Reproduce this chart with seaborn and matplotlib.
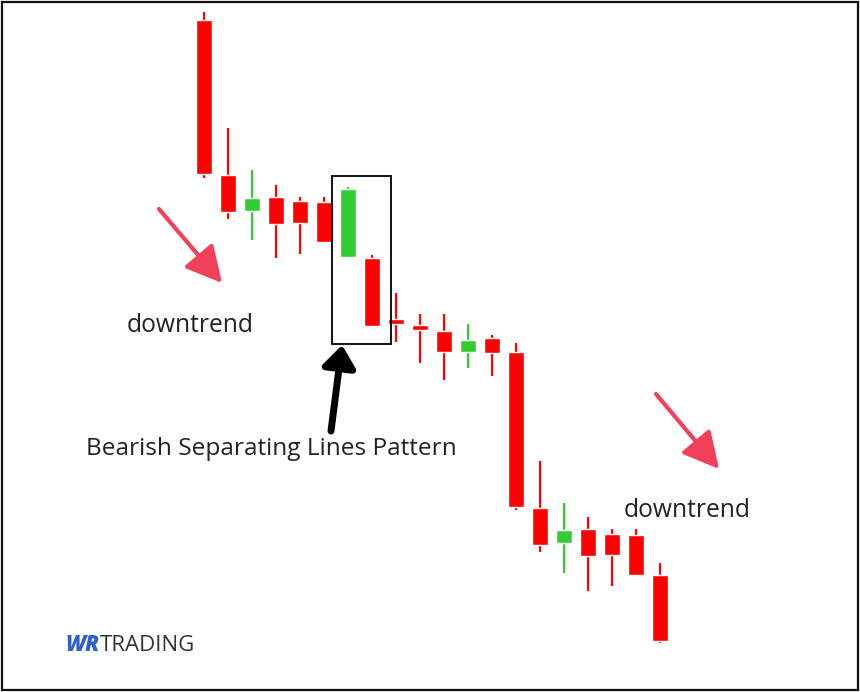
import matplotlib
matplotlib.use("Agg")
import matplotlib.pyplot as plt
import seaborn as sns
from matplotlib.patches import Rectangle

# candle data (price units, one candle per session)
opens  = [672, 517, 481, 495, 491, 490, 435, 434, 373, 367, 361, 340, 354, 340, 184, 149, 163, 158, 157, 117]
highs  = [680, 564, 522, 507, 495, 495, 505, 437, 399, 378, 378, 368, 357, 349, 231, 189, 175, 163, 163, 129]
lows   = [514, 473, 452, 434, 438, 450, 435, 366, 350, 329, 312, 324, 316, 182, 140, 119, 101, 106, 117, 49]
closes = [518, 480, 494, 468, 469, 450, 503, 366, 368, 362, 340, 352, 339, 185, 147, 162, 136, 137, 117, 51]

UP = "#33cc33"
DOWN = "#ff0000"
ARROW_RED = "#f2405a"
TEXT = "#222222"

sns.set_theme(style="white")
plt.rcParams["font.family"] = ["Open Sans", "DejaVu Sans"]

W, H = 860, 692
fig = plt.figure(figsize=(W / 100, H / 100), dpi=100)
ax = fig.add_axes([0, 0, 1, 1])
ax.set_xlim(-8.5, 27.33)
ax.set_ylim(0, 692)
ax.axis("off")

idx = list(range(len(opens)))
colors = [UP if c > o else DOWN for o, c in zip(opens, closes)]
bottoms = [min(o, c) for o, c in zip(opens, closes)]
heights = [max(abs(c - o), 4) for o, c in zip(opens, closes)]

ax.vlines(idx, lows, highs, colors=colors, lw=1.6, zorder=2)
ax.bar(idx, heights, bottom=bottoms, width=0.67, color=colors, zorder=3)


def px(x, y):
    # pixel position -> axes fraction
    return (x / W, 1 - y / H)


# pattern box
x0, y0 = px(332, 344)
x1, y1 = px(391, 176)
ax.add_patch(Rectangle((x0, y0), x1 - x0, y1 - y0, transform=ax.transAxes,
                       fill=False, ec="#111111", lw=1.4, zorder=4))

# trend arrows
for tail, tip in [((159, 209), (222, 283)), ((656, 394), (719, 469))]:
    ax.annotate("", xy=px(*tip), xytext=px(*tail), xycoords="axes fraction",
                textcoords="axes fraction",
                arrowprops=dict(arrowstyle="-|>,head_length=2.2,head_width=1.15",
                                mutation_scale=10, lw=3, color=ARROW_RED,
                                shrinkA=0, shrinkB=0))

ax.annotate("", xy=px(342, 345), xytext=px(331, 431), xycoords="axes fraction",
            textcoords="axes fraction",
            arrowprops=dict(arrowstyle="-|>,head_length=1.3,head_width=1.0",
                            mutation_scale=10, lw=5, color="black",
                            shrinkA=0, shrinkB=0))

# labels
ax.text(*px(190, 332), "downtrend", ha="center", va="baseline",
        fontsize=17.7, color=TEXT, transform=ax.transAxes)
ax.text(*px(687, 517), "downtrend", ha="center", va="baseline",
        fontsize=17.7, color=TEXT, transform=ax.transAxes)
ax.text(*px(271, 455), "Bearish Separating Lines Pattern", ha="center",
        va="baseline", fontsize=17.6, color=TEXT, transform=ax.transAxes)

# logo: "WR" then "TRADING" right after it
wr = ax.text(*px(65, 651), "WR", ha="left", va="baseline", fontsize=15.5,
             fontweight="heavy", fontstyle="italic", color="#2f5fd0",
             transform=ax.transAxes)
fig.canvas.draw()
wr_right = wr.get_window_extent().x1
ax.text(*px(wr_right + 1, 651), "TRADING", ha="left", va="baseline",
        fontsize=16, fontweight="medium", color="#333333",
        transform=ax.transAxes)

# outer frame
fig.patches.append(Rectangle((1.5 / W, 2 / H), 856 / W, 688.5 / H,
                             transform=fig.transFigure, fill=False,
                             ec="#111111", lw=1.6))

fig.savefig("out.png", dpi=100, facecolor="white")
